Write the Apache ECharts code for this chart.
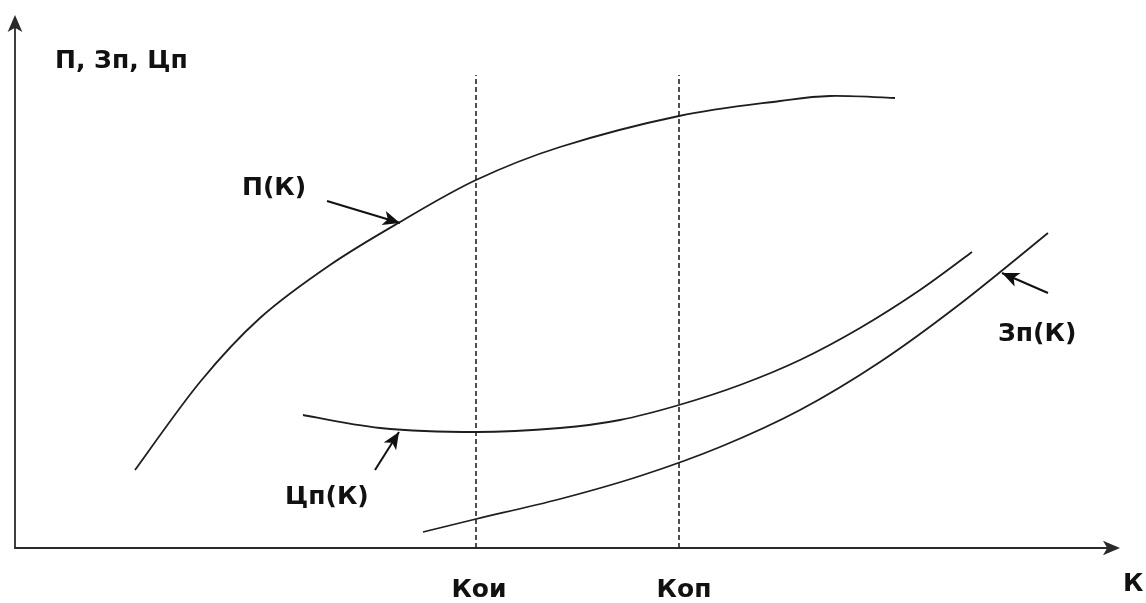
<!DOCTYPE html>
<html>
<head>
<meta charset="utf-8">
<script src="https://cdn.jsdelivr.net/npm/echarts@6/dist/echarts.min.js"></script>
<style>
html,body{margin:0;padding:0;background:#fff;}
#chart{width:1146px;height:603px;}
</style>
</head>
<body>
<div id="chart"></div>
<script>
// Curve points: [K, value] in axis units
var curveP  = [[120,78],[185,166],[245,230],[315,283],[385,326],[461,368],[545,401],[664,432],[765,447],[815,452],[880,450]];
var curveCp = [[288,133],[365,120],[461,116],[545,120],[605,128],[664,143],[725,163],[785,188],[845,220],[905,258],[957,296]];
var curveZp = [[408,16],[461,29],[545,49],[625,72],[705,101],[785,138],[865,186],[945,244],[1033,315]];
var kOi = 461, kOp = 664, dashTop = 473;
var xMax = 1097, yMax = 525;
var yAxisTitle = 'П, Зп, Цп';
var xAxisTitle = 'К';
var tickNames = ['Кои', 'Коп'];
var curveNames = ['П(К)', 'Цп(К)', 'Зп(К)'];
// annotation arrows: [tail, tip]
var arrowP  = [[312,347],[385,325]];
var arrowCp = [[360,78],[384,116]];
var arrowZp = [[1033,255],[987,275]];

var chart = echarts.init(document.getElementById('chart'));
var ink = '#111';
var fontFam = '"DejaVu Sans", Verdana, sans-serif';

// smooth curve through the data points (Catmull-Rom), positioned via the axes
function curve(name, data){
  return {name:name, type:'custom', data:data, encode:{x:0, y:1}, animation:false, z:3,
    renderItem:function(params, api){
      if (params.dataIndex !== 0) return null;
      var pts = data.map(function(d){ return api.coord(d); });
      var n = pts.length, d = 'M' + pts[0][0] + ' ' + pts[0][1];
      for (var i = 0; i < n - 1; i++){
        var p0 = pts[i > 0 ? i - 1 : i], p1 = pts[i], p2 = pts[i + 1], p3 = pts[i + 2 < n ? i + 2 : i + 1];
        var c1x = p1[0] + (p2[0] - p0[0]) / 6, c1y = p1[1] + (p2[1] - p0[1]) / 6;
        var c2x = p2[0] - (p3[0] - p1[0]) / 6, c2y = p2[1] - (p3[1] - p1[1]) / 6;
        d += ' C' + c1x + ' ' + c1y + ' ' + c2x + ' ' + c2y + ' ' + p2[0] + ' ' + p2[1];
      }
      return {type:'path', shape:{pathData:d},
        style:{fill:'none', stroke:'#1e1e1e', lineWidth:1.8}};
    }};
}
function dashed(x){
  return {type:'line', data:[[x,0],[x,dashTop]], symbol:'none',
    lineStyle:{color:'#222', width:1.6, type:[5,3]}, animation:false, z:2};
}
function arrow(a){
  return {type:'line', data:[], animation:false,
    markLine:{silent:true, symbol:['none','arrow'], symbolSize:[11,17],
      lineStyle:{color:'#111', width:2, type:'solid'}, label:{show:false},
      data:[[{coord:a[0]},{coord:a[1]}]]}};
}
var axisCommon = {
  type:'value', splitLine:{show:false}, axisTick:{show:false}, axisLabel:{show:false},
  axisLine:{show:true, symbol:['none','arrow'], symbolSize:[11,17], symbolOffset:[0,8],
    lineStyle:{color:'#2a2a2a', width:1.8}}
};
var option = {
  backgroundColor:'#fff',
  animation:false,
  grid:{left:15, right:34, top:23, bottom:55},
  xAxis:Object.assign({}, axisCommon, {min:0, max:xMax}),
  yAxis:Object.assign({}, axisCommon, {min:0, max:yMax}),
  series:[
    curve(curveNames[0], curveP), curve(curveNames[1], curveCp), curve(curveNames[2], curveZp),
    dashed(kOi), dashed(kOp),
    arrow(arrowP), arrow(arrowCp), arrow(arrowZp)
  ]
};
chart.setOption(option);

// Text annotations anchored to axis coordinates
var texts = [
  {t:yAxisTitle, c:[40,487], align:'left'},
  {t:curveNames[0], c:[227,360], align:'left'},
  {t:curveNames[1], c:[270,51], align:'left'},
  {t:curveNames[2], c:[983,214], align:'left'},
  {t:tickNames[0], c:[kOi+3,-42], align:'center'},
  {t:tickNames[1], c:[kOp+5,-42], align:'center'},
  {t:xAxisTitle, c:[1108,-36], align:'left'}
];
var g = texts.map(function(o){
  var p = chart.convertToPixel({xAxisIndex:0, yAxisIndex:0}, o.c);
  return {type:'text', x:p[0], y:p[1], silent:true,
    style:{text:o.t, fill:ink, font:'bold 25px ' + fontFam, align:o.align, verticalAlign:'middle'}};
});
chart.setOption({graphic:g});
</script>
</body>
</html>
